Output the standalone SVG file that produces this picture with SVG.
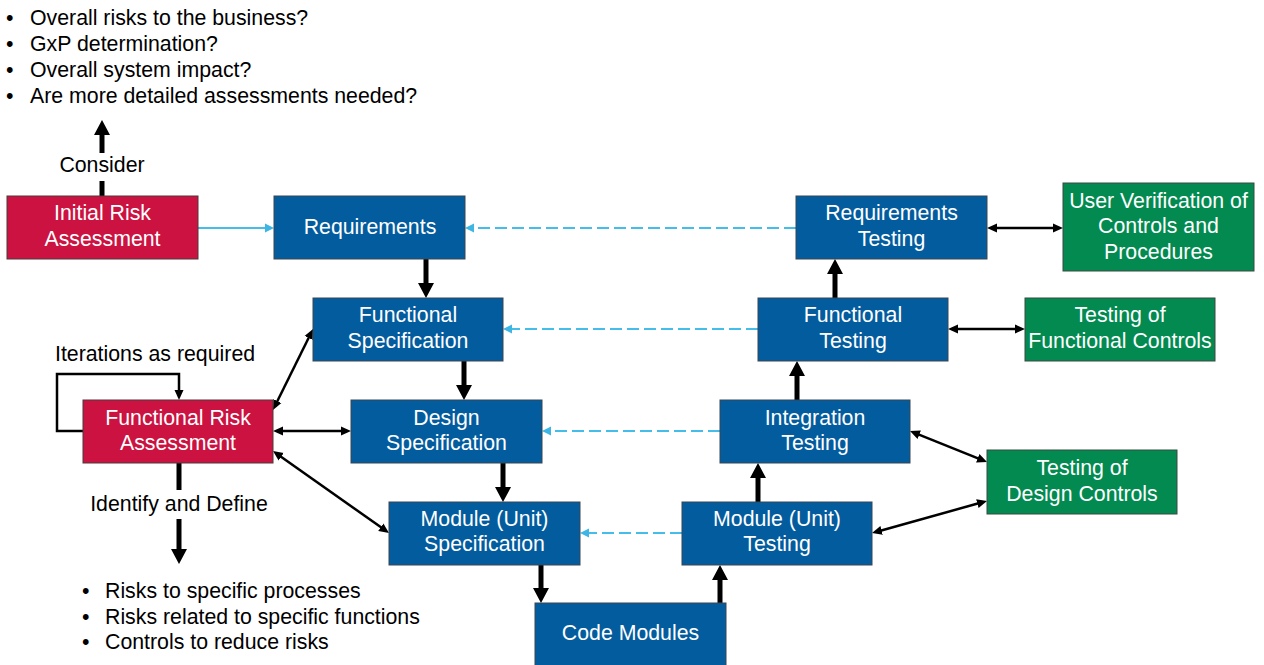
<svg xmlns="http://www.w3.org/2000/svg" width="1264" height="665" viewBox="0 0 1264 665">
<style>
text{font-family:"Liberation Sans",Arial,sans-serif;font-size:21.3px}
.lbl{fill:#fff;text-anchor:middle}
.plain{fill:#000}
.blue{fill:#035C9E;stroke:#3a4650;stroke-width:1}
.red{fill:#CB1240;stroke:#4a3a3a;stroke-width:1}
.green{fill:#028A50;stroke:#3a4a40;stroke-width:1}
.thick{stroke:#000;stroke-width:5;fill:none;marker-end:url(#hThick)}
.thickn{stroke:#000;stroke-width:5;fill:none}
.thin{stroke:#000;stroke-width:2.5;fill:none;marker-start:url(#hThin);marker-end:url(#hThin)}
.sky{stroke:#45BDEA;stroke-width:1.8;fill:none;marker-end:url(#hSky)}
.dash{stroke-dasharray:12 5}
</style>
<defs>
<marker id="hThick" markerUnits="userSpaceOnUse" viewBox="0 0 15 16" refX="7" refY="8" markerWidth="15" markerHeight="16" orient="auto"><path d="M0,0L15,8L0,16z" fill="#000"/></marker>
<marker id="hThin" markerUnits="userSpaceOnUse" viewBox="0 0 10 10" refX="5" refY="5" markerWidth="10" markerHeight="10" orient="auto-start-reverse"><path d="M0,0.5L10,5L0,9.5z" fill="#000"/></marker>
<marker id="hSky" markerUnits="userSpaceOnUse" viewBox="0 0 9 10" refX="3" refY="5" markerWidth="9" markerHeight="10" orient="auto"><path d="M0,0.5L9,5L0,9.5z" fill="#3DB6E6"/></marker>
</defs>

<g id="top-bullets" class="plain">
<text x="6" y="24.5">•</text><text x="30" y="24.5">Overall risks to the business?</text>
<text x="6" y="50.5">•</text><text x="30" y="50.5">GxP determination?</text>
<text x="6" y="76.5">•</text><text x="30" y="76.5">Overall system impact?</text>
<text x="6" y="102.5">•</text><text x="30" y="102.5">Are more detailed assessments needed?</text>
</g>
<g id="bottom-bullets" class="plain">
<text x="82" y="598">•</text><text x="105" y="598">Risks to specific processes</text>
<text x="82" y="623.5">•</text><text x="105" y="623.5">Risks related to specific functions</text>
<text x="82" y="649">•</text><text x="105" y="649">Controls to reduce risks</text>
</g>

<g id="connectors">
<path class="sky" d="M198,228H268"/>
<path class="sky dash" d="M796,228H471"/>
<path class="sky dash" d="M758,329H509"/>
<path class="sky dash" d="M720,431H548"/>
<path class="sky dash" d="M682,533H586"/>
<path class="thick" d="M426,259V290"/>
<path class="thick" d="M464,361V392"/>
<path class="thick" d="M503,463V494"/>
<path class="thick" d="M541,565V595"/>
<path class="thick" d="M720,603V573"/>
<path class="thick" d="M758,502V471"/>
<path class="thick" d="M797,400V369"/>
<path class="thick" d="M835,298V267"/>
<path class="thickn" d="M102,196V181"/>
<path class="thick" d="M102,153V128"/>
<path class="thickn" d="M179,463V490"/>
<path class="thick" d="M179,519V556"/>
<path class="thin" d="M992,228H1058"/>
<path class="thin" d="M953,329H1020"/>
<path class="thin" d="M914.6,432.9L982.4,460.1"/>
<path class="thin" d="M876.8,531.7L982.2,502.3"/>
<path class="thin" d="M275.2,405.5L310.8,333.5"/>
<path class="thin" d="M278,431H346"/>
<path class="thin" d="M277.1,453.9L384.9,530.1"/>
<path d="M83,431H57V374H179V395" stroke="#000" stroke-width="2.5" fill="none" marker-end="url(#hThin)"/>
<text class="plain" x="102" y="172" text-anchor="middle">Consider</text>
<text class="plain" x="179" y="511" text-anchor="middle">Identify and Define</text>
<text class="plain" x="55" y="360.5">Iterations as required</text>
</g>

<g id="initial-risk"><rect class="red" x="7" y="196" width="191" height="63"/><text class="lbl" x="102.5" y="220">Initial Risk</text><text class="lbl" x="102.5" y="246">Assessment</text></g>
<g id="requirements"><rect class="blue" x="274" y="196" width="191" height="63"/><text class="lbl" x="370" y="234">Requirements</text></g>
<g id="requirements-testing"><rect class="blue" x="796" y="196" width="191" height="63"/><text class="lbl" x="891.5" y="220">Requirements</text><text class="lbl" x="891.5" y="246">Testing</text></g>
<g id="user-verification"><rect class="green" x="1063" y="183" width="191" height="88"/><text class="lbl" x="1158.5" y="208">User Verification of</text><text class="lbl" x="1158.5" y="233">Controls and</text><text class="lbl" x="1158.5" y="259">Procedures</text></g>
<g id="functional-spec"><rect class="blue" x="313" y="298" width="190" height="63"/><text class="lbl" x="408" y="322">Functional</text><text class="lbl" x="408" y="348">Specification</text></g>
<g id="functional-testing"><rect class="blue" x="758" y="298" width="190" height="63"/><text class="lbl" x="853" y="322">Functional</text><text class="lbl" x="853" y="348">Testing</text></g>
<g id="testing-functional-controls"><rect class="green" x="1025" y="298" width="190" height="63"/><text class="lbl" x="1120" y="322">Testing of</text><text class="lbl" x="1120" y="348">Functional Controls</text></g>
<g id="functional-risk"><rect class="red" x="83" y="400" width="190" height="63"/><text class="lbl" x="178" y="425">Functional Risk</text><text class="lbl" x="178" y="450">Assessment</text></g>
<g id="design-spec"><rect class="blue" x="351" y="400" width="191" height="63"/><text class="lbl" x="446.5" y="425">Design</text><text class="lbl" x="446.5" y="450">Specification</text></g>
<g id="integration-testing"><rect class="blue" x="720" y="400" width="190" height="63"/><text class="lbl" x="815" y="425">Integration</text><text class="lbl" x="815" y="450">Testing</text></g>
<g id="testing-design-controls"><rect class="green" x="987" y="450" width="190" height="64"/><text class="lbl" x="1082" y="475">Testing of</text><text class="lbl" x="1082" y="501">Design Controls</text></g>
<g id="module-spec"><rect class="blue" x="389" y="502" width="191" height="63"/><text class="lbl" x="484.5" y="526">Module (Unit)</text><text class="lbl" x="484.5" y="551">Specification</text></g>
<g id="module-testing"><rect class="blue" x="682" y="502" width="190" height="63"/><text class="lbl" x="777" y="526">Module (Unit)</text><text class="lbl" x="777" y="551">Testing</text></g>
<g id="code-modules"><rect class="blue" x="535" y="603" width="191" height="64"/><text class="lbl" x="630.5" y="640">Code Modules</text></g>
</svg>
